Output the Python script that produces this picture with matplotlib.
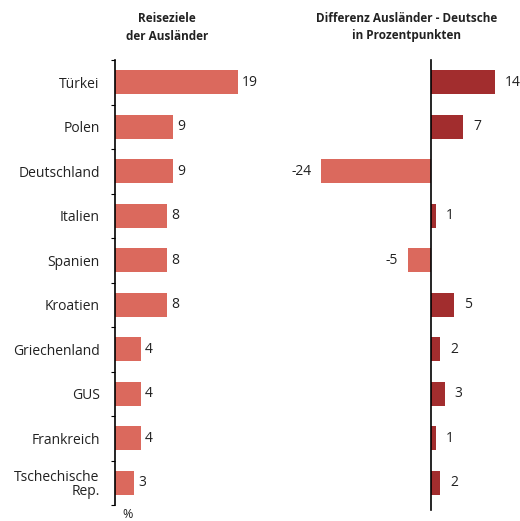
import matplotlib
matplotlib.use("Agg")
import matplotlib.pyplot as plt
from matplotlib.transforms import offset_copy

plt.rcParams['font.family'] = ['Open Sans', 'DejaVu Sans']

countries = ["Türkei", "Polen", "Deutschland", "Italien", "Spanien", "Kroatien",
             "Griechenland", "GUS", "Frankreich", "Tschechische\nRep."]
share = [19, 9, 9, 8, 8, 8, 4, 4, 4, 3]
diff = [14, 7, -24, 1, -5, 5, 2, 3, 1, 2]

light = "#DB695D"
dark = "#A22D2E"
text_col = "#222222"

W, H = 520, 521
fig = plt.figure(figsize=(W / 100, H / 100), dpi=100)

top_px, bot_px = 60, 505
ax1 = fig.add_axes([115 / W, 1 - bot_px / H, 160 / W, (bot_px - top_px) / H])
ax2 = fig.add_axes([290 / W, 1 - bot_px / H, 225 / W, (bot_px - top_px) / H])

y = list(range(len(countries)))
bh = 0.54

# left panel: share of destinations
ax1.barh(y, share, height=bh, color=light)
ax1.set_xlim(0, 160 / 6.48)
ax1.set_ylim(len(countries) - 0.5, -0.5)
ax1.set_yticks([i - 0.5 for i in range(len(countries) + 1)])
ax1.set_yticklabels([])
ax1.set_yticks(y, minor=True)
ax1.set_yticklabels(countries, minor=True, fontsize=10, color=text_col,
                    ha="right", linespacing=0.95)
ax1.tick_params(axis="y", which="major", direction="out", length=3, width=0.8)
ax1.tick_params(axis="y", which="minor", length=0, pad=11)
ax1.set_xticks([])
for s in ["top", "right", "bottom"]:
    ax1.spines[s].set_visible(False)
ax1.spines["left"].set_linewidth(1.2)
for yi, v in zip(y, share):
    ax1.text(v, yi, str(v), transform=offset_copy(ax1.transData, fig=fig, x=4, y=0, units="dots"),
             ha="left", va="center", fontsize=10, color=text_col)
ax1.text(128 / W, 1 - 515 / H, "%", transform=fig.transFigure, ha="center", va="center",
         fontsize=9, color=text_col)

# right panel: difference in percentage points
zero_px = 431
scale = 4.57
ax2.barh(y, diff, height=bh, color=[dark if d > 0 else light for d in diff])
ax2.set_xlim((290 - zero_px) / scale, (515 - zero_px) / scale)
ax2.set_ylim(len(countries) - 0.5, -0.5)
ax2.set_xticks([])
ax2.set_yticks([])
for s in ["top", "right", "bottom", "left"]:
    ax2.spines[s].set_visible(False)
ax2.axvline(0, color="black", linewidth=1.2, ymin=-0.012, ymax=1, clip_on=False)
for yi, v in zip(y, diff):
    off = 10 if v > 0 else -10
    ax2.text(v, yi, str(v), transform=offset_copy(ax2.transData, fig=fig, x=off, y=0, units="dots"),
             ha="left" if v > 0 else "right", va="center", fontsize=10, color=text_col)

fig.text(167 / W, 1 - 27 / H, "Reiseziele\nder Ausländer", ha="center", va="center",
         fontsize=8.5, fontweight="bold", color=text_col, linespacing=1.5)
fig.text(407 / W, 1 - 27 / H, "Differenz Ausländer - Deutsche\nin Prozentpunkten",
         ha="center", va="center", fontsize=8.5, fontweight="bold", color=text_col,
         linespacing=1.5)

fig.savefig("out.png", dpi=100, facecolor="white")
